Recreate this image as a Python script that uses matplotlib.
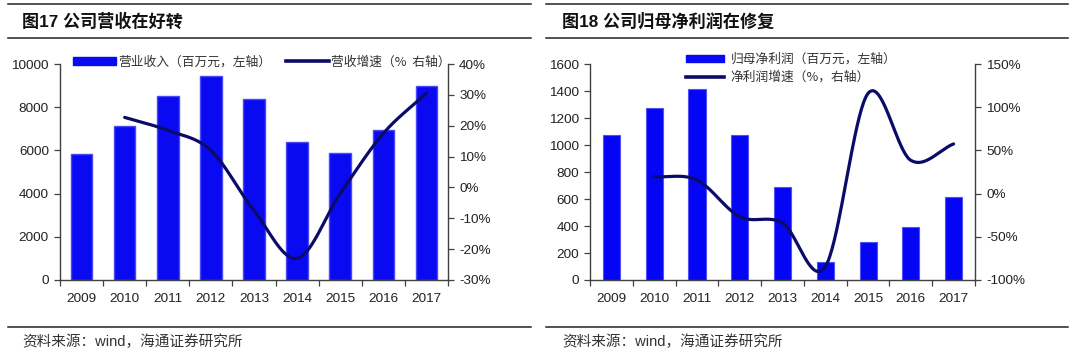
import numpy as np
import matplotlib
matplotlib.use("Agg")
import matplotlib.pyplot as plt
from matplotlib.lines import Line2D
from matplotlib.patches import Patch
from matplotlib.ticker import FuncFormatter

plt.rcParams['font.family'] = ['Liberation Sans', 'Noto Sans CJK SC', 'DejaVu Sans']

# ---------------- data ----------------
years = ['2009', '2010', '2011', '2012', '2013', '2014', '2015', '2016', '2017']
revenue = [5830, 7130, 8500, 9440, 8365, 6375, 5895, 6930, 8995]          # 百万元
rev_growth = [None, 22.7, 18.5, 12.0, -7.5, -23.0, -2.0, 17.5, 30.5]      # %
profit = [1074, 1272, 1412, 1074, 691, 136, 284, 395, 617]                 # 百万元
profit_growth = [None, 19.6, 15.7, -26.7, -34.0, -84.6, 116.0, 38.5, 57.5]  # %

title_left = '图17 公司营收在好转'
title_right = '图18 公司归母净利润在修复'
leg_left = ['营业收入（百万元，左轴）', '营收增速（%  右轴）']
leg_right = ['归母净利润（百万元，左轴）', '净利润增速（%，右轴）']
source = '资料来源：wind，海通证券研究所'

BAR = '#0A0AF2'
LINE = '#0B0B6A'
AXC = '#404040'
W, H = 1080, 361


def catmull(xs, ys, n=40):
    xs = np.asarray(xs, float)
    ys = np.asarray(ys, float)
    P = np.column_stack([xs, ys])
    P = np.vstack([2 * P[0] - P[1], P, 2 * P[-1] - P[-2]])
    out = []
    t = np.linspace(0, 1, n)[:, None]
    for i in range(1, len(P) - 2):
        p0, p1, p2, p3 = P[i - 1], P[i], P[i + 1], P[i + 2]
        seg = 0.5 * ((2 * p1) + (-p0 + p2) * t + (2 * p0 - 5 * p1 + 4 * p2 - p3) * t ** 2
                     + (-p0 + 3 * p1 - 3 * p2 + p3) * t ** 3)
        out.append(seg if i == 1 else seg[1:])
    out = np.vstack(out)
    return out[:, 0], out[:, 1]


fig = plt.figure(figsize=(W / 100, H / 100), dpi=100)


def fx(px):
    return px / W


def fy(py):
    return 1 - py / H


def style_axes(ax, twin):
    ax.spines['top'].set_visible(False)
    twin.spines['top'].set_visible(False)
    ax.spines['right'].set_visible(False)
    twin.spines['left'].set_visible(False)
    twin.spines['bottom'].set_visible(False)
    for a in (ax, twin):
        for s in a.spines.values():
            s.set_color(AXC)
            s.set_linewidth(1.0)
    ax.tick_params(axis='y', direction='out', length=4, width=0.9, color=AXC,
                   labelsize=9.7, labelcolor='#222222', pad=4)
    twin.tick_params(axis='y', direction='out', length=4, width=0.9, color=AXC,
                     labelsize=9.7, labelcolor='#222222', pad=4)
    x = np.arange(len(years))
    ax.set_xticks(x)
    ax.set_xticklabels(years)
    ax.set_xticks(np.arange(-0.5, len(years), 1), minor=True)
    ax.tick_params(axis='x', which='major', length=0, labelsize=9.7, labelcolor='#222222', pad=9)
    ax.tick_params(axis='x', which='minor', length=4, width=0.9, color=AXC, direction='out')
    ax.set_xlim(-0.5, len(years) - 0.5)


# ---------------- left chart ----------------
axL = fig.add_axes([fx(60), fy(280), fx(388), 216 / H])
tL = axL.twinx()
x = np.arange(len(years))
axL.bar(x, revenue, width=0.5, color=BAR, edgecolor='#4a4af5', linewidth=1.0, zorder=2)
axL.set_ylim(0, 10000)
axL.set_yticks(np.arange(0, 10001, 2000))
gx = [i for i, v in enumerate(rev_growth) if v is not None]
gy = [v for v in rev_growth if v is not None]
sx, sy = catmull(gx, gy)
tL.plot(sx, sy, color=LINE, lw=2.3, solid_capstyle='round', zorder=3)
tL.set_ylim(-30, 40)
tL.set_yticks(np.arange(-30, 41, 10))
tL.yaxis.set_major_formatter(FuncFormatter(lambda v, p: f'{v:.0f}%'))
style_axes(axL, tL)

# ---------------- right chart ----------------
axR = fig.add_axes([fx(590), fy(280), fx(385), 216 / H])
tR = axR.twinx()
axR.bar(x, profit, width=0.4, color='#0505F5', edgecolor='#5050f5', linewidth=0.8, zorder=2)
axR.set_ylim(0, 1600)
axR.set_yticks(np.arange(0, 1601, 200))
gx = [i for i, v in enumerate(profit_growth) if v is not None]
gy = [v for v in profit_growth if v is not None]
sx, sy = catmull(gx, gy)
tR.plot(sx, sy, color=LINE, lw=2.3, solid_capstyle='round', zorder=3)
tR.set_ylim(-100, 150)
tR.set_yticks(np.arange(-100, 151, 50))
tR.yaxis.set_major_formatter(FuncFormatter(lambda v, p: f'{v:.0f}%'))
style_axes(axR, tR)

# ---------------- legends ----------------
cjk = {'family': ['Noto Sans CJK SC', 'DejaVu Sans'], 'size': 9.2}
hL = [Patch(facecolor=BAR, edgecolor=BAR), Line2D([], [], color=LINE, lw=2.6)]
lg = fig.legend(hL, leg_left, loc='center', bbox_to_anchor=(fx(262), fy(62)), ncol=2,
                frameon=False, prop=cjk, handlelength=3.3, handleheight=0.55,
                handletextpad=0.2, columnspacing=1.2, borderpad=0, borderaxespad=0)
for t in lg.get_texts():
    t.set_color('#333333')

hR = [Patch(facecolor=BAR, edgecolor=BAR), Line2D([], [], color=LINE, lw=2.6)]
lg2 = fig.legend(hR, leg_right, loc='upper left', bbox_to_anchor=(fx(686), fy(53)), ncol=1,
                 frameon=False, prop=cjk, handlelength=3.0, handleheight=0.45,
                 handletextpad=0.5, labelspacing=0.4, borderpad=0, borderaxespad=0)
for t in lg2.get_texts():
    t.set_color('#333333')

# ---------------- titles, rules, sources ----------------
for x0, x1, tx, title in [(8, 531, 22, title_left), (546, 1068, 562, title_right)]:
    for yy in (3.5, 38, 327):
        fig.add_artist(Line2D([fx(x0), fx(x1)], [fy(yy), fy(yy)], color='#222222', lw=1.1))
    fig.text(fx(tx), fy(21), title, fontsize=12.3, fontweight='bold', va='center', ha='left',
             family=['Liberation Sans', 'Noto Sans CJK SC'], color='#111111')
    fig.text(fx(tx), fy(342), source, fontsize=10.5, va='center', ha='left',
             family=['Liberation Sans', 'Noto Sans CJK SC'], color='#333333')

fig.savefig('out.png', dpi=100)
